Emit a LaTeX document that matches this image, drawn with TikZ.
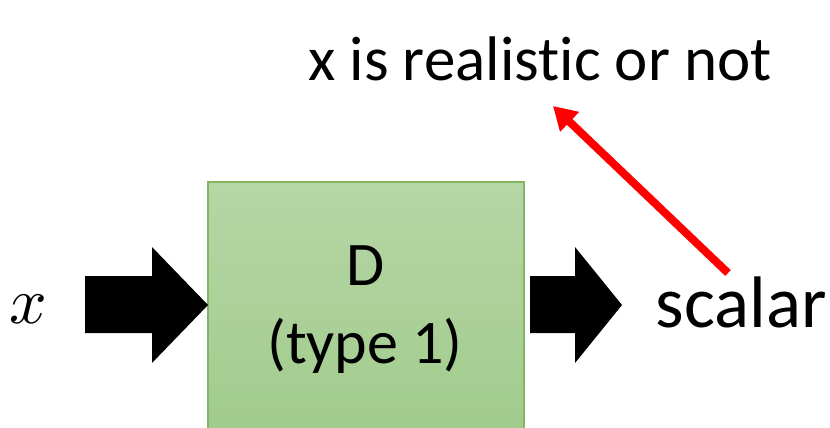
\documentclass[tikz,border=0pt]{standalone}
\usepackage{unicode-math}
\setmainfont[Ligatures=NoCommon]{Carlito}
\usetikzlibrary{arrows.meta}
\definecolor{boxtop}{RGB}{182,214,166}
\definecolor{boxbot}{RGB}{160,203,139}
\definecolor{boxline}{RGB}{130,182,100}
\definecolor{hint}{RGB}{255,0,0}
\tikzset{
  dbox/.style={draw=boxline,line width=1.5pt,top color=boxtop,bottom color=boxbot,
    anchor=north west,inner sep=0pt,minimum width=316pt,minimum height=262pt},
  big/.style={font=\fontsize{63}{76}\selectfont,inner sep=0pt,anchor=base},
  boxtext/.style={font=\fontsize{62}{74}\selectfont,inner sep=0pt,anchor=base},
}
\begin{document}
\begin{tikzpicture}[x=1pt,y=-1pt]
\useasboundingbox (0,0) rectangle (830,428);
\clip (0,0) rectangle (830,428);

% the discriminator
\node[dbox] (box) at (207,181) {};
\node[boxtext] (dname) at (366,285) {D};
\node[boxtext] (dtype) at (365,363) {(type 1)};

% input and output
\node[inner sep=0pt,anchor=base,font=\fontsize{66}{80}\selectfont] (input) at (28,323) {$x$};
\node[inner sep=0pt,anchor=base,font=\fontsize{73}{86}\selectfont] (output) at (741,327) {scalar};
\node[big] (meaning) at (540,81) {x is realistic or not};

% block arrows
\fill (85,276)--(152,276)--(152,247)--(208,305)--(152,363)--(152,333)--(85,333)--cycle;
\fill (530,276)--(575,276)--(575,247)--(622,305)--(575,363)--(575,333)--(530,333)--cycle;

% what the scalar stands for
\coordinate (tail) at (728,273);
\coordinate (tip) at (553,106);
\draw[hint,line width=8pt,-{Triangle[length=23pt,width=26pt]}] (tail)--(tip);
\end{tikzpicture}
\end{document}
